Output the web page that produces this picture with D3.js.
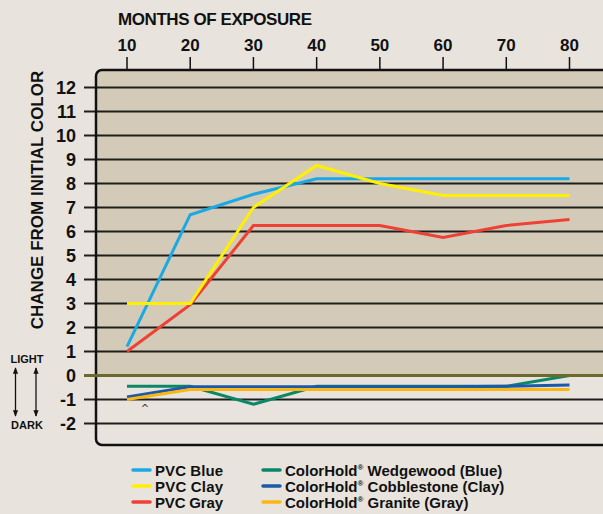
<!DOCTYPE html>
<html lang="en">
<head>
<meta charset="utf-8">
<title>Change from initial color</title>
<script src="https://d3js.org/d3.v7.min.js"></script>
<style>
  body { margin: 0; background: #e8e4dd; }
  svg { display: block; }
  .cond { font-family: "Liberation Sans Narrow", "Arial Narrow", "Liberation Sans", Arial, sans-serif; font-weight: bold; }
  .legend { font-family: "Liberation Sans", Arial, sans-serif; font-weight: bold; font-size: 15px; }
</style>
</head>
<body>
<svg width="603" height="514"></svg>
<script>
// data
const months = [10, 20, 30, 40, 50, 60, 70, 80];
const yTicks = [-2, -1, 0, 1, 2, 3, 4, 5, 6, 7, 8, 9, 10, 11, 12];

const pvcBlue = [1.2, 6.7, 7.55, 8.2, 8.2, 8.2, 8.2, 8.2];
const pvcClay = [3, 3, 7.0, 8.75, 8.0, 7.5, 7.5, 7.5];
const pvcGray = [1, 2.95, 6.25, 6.25, 6.25, 5.75, 6.25, 6.5];
const wedgewood = [-0.45, -0.45, -1.2, -0.45, -0.45, -0.45, -0.45, 0];
const cobblestone = [-0.9, -0.47, -0.47, -0.47, -0.47, -0.47, -0.45, -0.4];
const granite = [-1.0, -0.58, -0.58, -0.58, -0.58, -0.58, -0.58, -0.58];

const seriesNames = ["PVC Blue", "PVC Clay", "PVC Gray",
  "Wedgewood (Blue)", "Cobblestone (Clay)", "Granite (Gray)"];
const seriesColors = ["#1ba9e5", "#fff000", "#ee4035", "#0b8768", "#1a5aa8", "#fbb614"];

const svg = d3.select("svg");

const x = d3.scaleLinear().domain([10, 80]).range([127, 569.5]);
const y = d3.scaleLinear().domain([-2, 12]).range([423.5, 87.5]);

const boxLeft = 96, boxTop = 70, boxBottom = 445, boxRight = 640;

// light lower part, tan upper part
svg.append("rect")
  .attr("x", boxLeft).attr("y", boxTop)
  .attr("width", boxRight - boxLeft).attr("height", boxBottom - boxTop)
  .attr("rx", 6)
  .attr("fill", "#e8e4dd");
svg.append("clipPath").attr("id", "upper")
  .append("rect")
  .attr("x", 0).attr("y", 0).attr("width", 603).attr("height", y(0));
svg.append("rect")
  .attr("clip-path", "url(#upper)")
  .attr("x", boxLeft).attr("y", boxTop)
  .attr("width", boxRight - boxLeft).attr("height", boxBottom - boxTop)
  .attr("rx", 6)
  .attr("fill", "#d3cbb7");

// gridlines with left ticks
svg.append("g").selectAll("line")
  .data(yTicks.filter(d => d !== 0))
  .join("line")
  .attr("x1", 84).attr("x2", 603)
  .attr("y1", d => y(d)).attr("y2", d => y(d))
  .attr("stroke", "#1e1e1e")
  .attr("stroke-width", 2);

// box outline
svg.append("rect")
  .attr("x", boxLeft).attr("y", boxTop)
  .attr("width", boxRight - boxLeft).attr("height", boxBottom - boxTop)
  .attr("rx", 6)
  .attr("fill", "none")
  .attr("stroke", "#111")
  .attr("stroke-width", 2.5);

// top ticks
svg.append("g").selectAll("line")
  .data(months)
  .join("line")
  .attr("x1", d => x(d)).attr("x2", d => x(d))
  .attr("y1", 57).attr("y2", boxTop)
  .attr("stroke", "#111")
  .attr("stroke-width", 1.5);

svg.append("g").selectAll("text")
  .data(months)
  .join("text")
  .attr("class", "cond")
  .attr("x", d => x(d)).attr("y", 51)
  .attr("text-anchor", "middle")
  .attr("font-size", 17)
  .attr("fill", "#111")
  .text(d => d);

svg.append("text")
  .attr("class", "cond")
  .attr("x", 118).attr("y", 25)
  .attr("font-size", 17)
  .attr("textLength", 194)
  .attr("fill", "#111")
  .text("MONTHS OF EXPOSURE");

// y tick labels
svg.append("g").selectAll("text")
  .data(yTicks)
  .join("text")
  .attr("class", "cond")
  .attr("x", 76).attr("y", d => y(d) + 6)
  .attr("text-anchor", "end")
  .attr("font-size", 18)
  .attr("fill", "#111")
  .text(d => d);

svg.append("text")
  .attr("class", "cond")
  .attr("transform", "translate(43,200) rotate(-90)")
  .attr("text-anchor", "middle")
  .attr("font-size", 17)
  .attr("fill", "#111")
  .text("CHANGE FROM INITIAL COLOR");

// series lines
const allSeries = [pvcBlue, pvcClay, pvcGray, wedgewood, cobblestone, granite];
const line = d3.line().x((d, i) => x(months[i])).y(d => y(d));
const drawOrder = [3, 4, 5, 2, 0, 1];
svg.append("g").selectAll("path")
  .data(drawOrder)
  .join("path")
  .attr("d", k => line(allSeries[k]))
  .attr("fill", "none")
  .attr("stroke", k => seriesColors[k])
  .attr("stroke-width", 3)
  .attr("stroke-linejoin", "miter");

// zero line
svg.append("line")
  .attr("x1", 84).attr("x2", 603)
  .attr("y1", y(0)).attr("y2", y(0))
  .attr("stroke", "#6b692d")
  .attr("stroke-width", 3);

// stray mark
svg.append("text")
  .attr("x", 145).attr("y", 412)
  .attr("text-anchor", "middle")
  .attr("font-family", "DejaVu Sans, sans-serif")
  .attr("font-size", 10)
  .attr("fill", "#333")
  .text("^");

// light / dark
const ld = svg.append("g").attr("font-family", "Liberation Sans, Arial, sans-serif")
  .attr("font-weight", "bold").attr("font-size", 11).attr("fill", "#111");
ld.append("text").attr("x", 27).attr("y", 363).attr("text-anchor", "middle").text("LIGHT");
ld.append("text").attr("x", 27).attr("y", 429).attr("text-anchor", "middle").text("DARK");
const defs = svg.append("defs");
defs.append("marker").attr("id", "ah")
  .attr("viewBox", "0 -5 10 10").attr("refX", 9).attr("refY", 0)
  .attr("markerWidth", 5).attr("markerHeight", 5)
  .attr("orient", "auto-start-reverse")
  .append("path").attr("d", "M0,-4L10,0L0,4Z").attr("fill", "#111");
[15.5, 36].forEach(ax => {
  svg.append("line")
    .attr("x1", ax).attr("x2", ax).attr("y1", 368).attr("y2", 416)
    .attr("stroke", "#111").attr("stroke-width", 1.3)
    .attr("marker-start", "url(#ah)").attr("marker-end", "url(#ah)");
});

// legend
const legendPos = [[133, 476], [133, 492], [133, 508], [263, 476], [263, 492], [263, 508]];
const lg = svg.append("g").attr("class", "legend");
seriesNames.forEach((name, i) => {
  const [lx, ly] = legendPos[i];
  lg.append("line")
    .attr("x1", lx).attr("x2", lx + 17).attr("y1", ly - 6).attr("y2", ly - 6)
    .attr("stroke", seriesColors[i]).attr("stroke-width", 3.5)
    .attr("stroke-linecap", "round");
  const t = lg.append("text").attr("x", lx + 22).attr("y", ly).attr("fill", "#111");
  if (i < 3) {
    t.attr("textLength", 68).text(name);
  } else {
    t.append("tspan").text("ColorHold");
    t.append("tspan").attr("font-size", 8).attr("dy", -6).text("®");
    t.append("tspan").attr("dy", 6).text(" " + name);
  }
});
</script>
</body>
</html>
